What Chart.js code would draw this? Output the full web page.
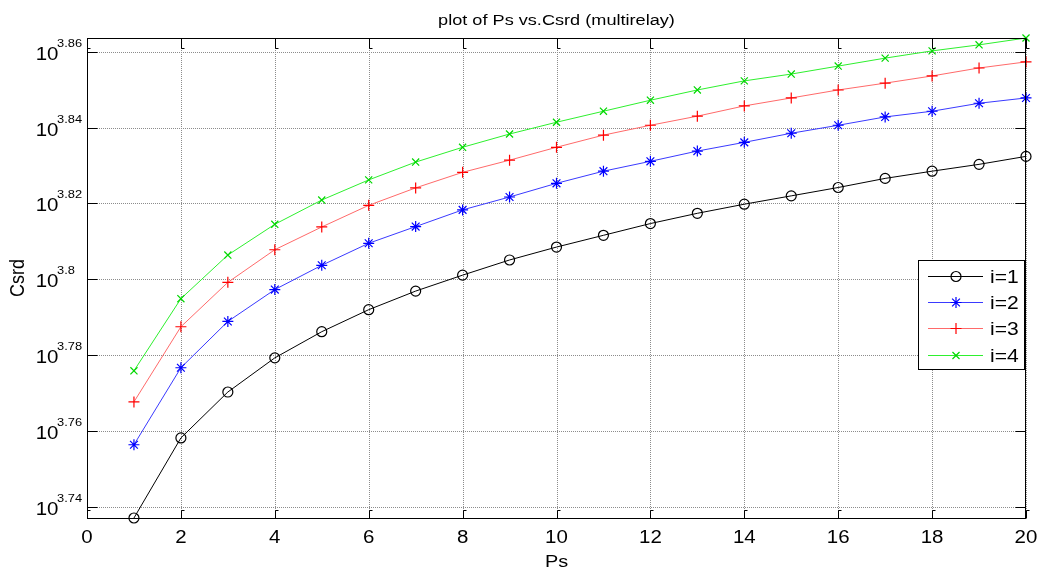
<!DOCTYPE html>
<html>
<head>
<meta charset="utf-8">
<script src="https://cdn.jsdelivr.net/npm/chart.js@4/dist/chart.umd.min.js"></script>
<style>
  html, body { margin: 0; padding: 0; background: #fff; }
  #wrap { width: 1039px; height: 571px; }
</style>
</head>
<body>
<div id="wrap"><canvas id="c" width="1039" height="571"></canvas></div>
<script>
// ---------- data ----------
const ps = [1, 2, 3, 4, 5, 6, 7, 8, 9, 10, 11, 12, 13, 14, 15, 16, 17, 18, 19, 20];
const csrdI1 = [3.7371, 3.7582, 3.7703, 3.7793, 3.7862, 3.7920, 3.7969, 3.8011, 3.8051, 3.8085,
                3.8116, 3.8147, 3.8174, 3.8198, 3.8220, 3.8242, 3.8266, 3.8285, 3.8303, 3.8324];
const csrdI2 = [3.7564, 3.7767, 3.7889, 3.7973, 3.8037, 3.8095, 3.8139, 3.8183, 3.8217, 3.8253,
                3.8285, 3.8311, 3.8338, 3.8361, 3.8385, 3.8406, 3.8428, 3.8443, 3.8464, 3.8478];
const csrdI3 = [3.7677, 3.7875, 3.7992, 3.8078, 3.8138, 3.8195, 3.8241, 3.8282, 3.8314, 3.8348,
                3.8380, 3.8406, 3.8430, 3.8457, 3.8478, 3.8499, 3.8517, 3.8536, 3.8557, 3.8573];
const csrdI4 = [3.7759, 3.7949, 3.8064, 3.8145, 3.8209, 3.8262, 3.8309, 3.8348, 3.8383, 3.8414,
                3.8443, 3.8472, 3.8499, 3.8523, 3.8541, 3.8562, 3.8583, 3.8602, 3.8618, 3.8636];
const seriesNames = ['i=1', 'i=2', 'i=3', 'i=4'];
const xTicks = [0, 2, 4, 6, 8, 10, 12, 14, 16, 18, 20];
const yTicks = [3.74, 3.76, 3.78, 3.80, 3.82, 3.84, 3.86];
const yTickExp = ['3.74', '3.76', '3.78', '3.8', '3.82', '3.84', '3.86'];
const titleText = 'plot of Ps vs.Csrd (multirelay)';
const xTitle = 'Ps';
const yTitle = 'Csrd';

// ---------- styling ----------
const FONT = '"Liberation Sans", Arial, Helvetica, sans-serif';
const SX = 1.17; // horizontal stretch of text in the reference
const allVals = [].concat(csrdI1, csrdI2, csrdI3, csrdI4);
const yMin = Math.min.apply(null, allVals);
const yMax = Math.max.apply(null, allVals);

function pts(arr) { return ps.map((p, i) => ({ x: p, y: arr[i] })); }

const styles = [
  { line: '#000000', mark: '#000000', style: 'circle',   r: 5 },
  { line: '#3a3aff', mark: '#0000ff', style: 'star',     r: 5.5 },
  { line: '#ff6a6a', mark: '#ff0000', style: 'cross',    r: 5.5 },
  { line: '#2ef02e', mark: '#00d800', style: 'crossRot', r: 5 }
];
const seriesData = [csrdI1, csrdI2, csrdI3, csrdI4];

const datasets = seriesData.map((arr, k) => ({
  label: seriesNames[k],
  data: pts(arr),
  borderColor: styles[k].line,
  borderWidth: 1,
  pointStyle: styles[k].style,
  pointRadius: styles[k].r,
  pointBorderColor: styles[k].mark,
  pointBackgroundColor: 'rgba(0,0,0,0)',
  pointBorderWidth: 1.2,
  tension: 0,
  fill: false,
  clip: false
}));

function text(ctx, s, x, y, size, align, baseline) {
  ctx.save();
  ctx.font = size + 'px ' + FONT;
  ctx.fillStyle = '#000';
  ctx.textAlign = align || 'left';
  ctx.textBaseline = baseline || 'alphabetic';
  ctx.translate(x, y);
  ctx.scale(SX, 1);
  ctx.fillText(s, 0, 0);
  ctx.restore();
}

function marker(ctx, style, x, y, r, color) {
  ctx.save();
  ctx.strokeStyle = color;
  ctx.lineWidth = 1.2;
  ctx.beginPath();
  if (style === 'circle') {
    ctx.arc(x, y, r, 0, Math.PI * 2);
  } else {
    const d = r * Math.SQRT1_2;
    if (style === 'cross' || style === 'star') {
      ctx.moveTo(x - r, y); ctx.lineTo(x + r, y);
      ctx.moveTo(x, y - r); ctx.lineTo(x, y + r);
    }
    if (style === 'crossRot' || style === 'star') {
      ctx.moveTo(x - d, y - d); ctx.lineTo(x + d, y + d);
      ctx.moveTo(x - d, y + d); ctx.lineTo(x + d, y - d);
    }
  }
  ctx.stroke();
  ctx.restore();
}

const matlabAxes = {
  id: 'matlabAxes',
  beforeDraw(chart) {
    const ctx = chart.ctx;
    ctx.save();
    ctx.fillStyle = '#fff';
    ctx.fillRect(0, 0, chart.width, chart.height);
    ctx.restore();
  },
  beforeDatasetsDraw(chart) {
    const ctx = chart.ctx, a = chart.chartArea;
    const xs = chart.scales.x, ys = chart.scales.y;
    ctx.save();
    ctx.strokeStyle = '#8c8c8c';
    ctx.lineWidth = 1;
    ctx.setLineDash([1, 1]);
    xTicks.forEach(v => {
      const px = Math.round(xs.getPixelForValue(v)) + 0.5;
      ctx.beginPath(); ctx.moveTo(px, a.top); ctx.lineTo(px, a.bottom); ctx.stroke();
    });
    yTicks.forEach(v => {
      const py = Math.round(ys.getPixelForValue(v)) + 0.5;
      ctx.beginPath(); ctx.moveTo(a.left, py); ctx.lineTo(a.right, py); ctx.stroke();
    });
    ctx.restore();
  },
  afterDraw(chart) {
    const ctx = chart.ctx, a = chart.chartArea;
    const xs = chart.scales.x, ys = chart.scales.y;
    const L = Math.round(a.left) + 0.5, R = Math.round(a.right) - 0.5;
    const T = Math.round(a.top) + 0.5, B = Math.round(a.bottom) + 0.5;
    ctx.save();
    ctx.strokeStyle = '#000';
    ctx.lineWidth = 1;
    ctx.setLineDash([]);
    ctx.strokeRect(L, T, R - L, B - T);
    // tick marks (inside, all four sides)
    ctx.beginPath();
    xTicks.forEach(v => {
      const px = Math.round(xs.getPixelForValue(v)) + 0.5;
      ctx.moveTo(px, T); ctx.lineTo(px, T + 10); ctx.lineTo(px + 3, T + 10);
      ctx.moveTo(px + 3, B - 8); ctx.lineTo(px, B - 8); ctx.lineTo(px, B);
    });
    yTicks.forEach(v => {
      const py = Math.round(ys.getPixelForValue(v)) + 0.5;
      ctx.moveTo(L, py); ctx.lineTo(L + 10, py);
      ctx.moveTo(R, py); ctx.lineTo(R - 10, py);
    });
    ctx.stroke();
    ctx.restore();

    // x tick labels
    xTicks.forEach(v => {
      text(ctx, String(v), xs.getPixelForValue(v), 543, 17.5, 'center');
    });
    // y tick labels 10^exp
    yTicks.forEach((v, i) => {
      const py = ys.getPixelForValue(v);
      text(ctx, '10', 58.5, py + 8, 17.5, 'right');
      text(ctx, yTickExp[i], 57, py - 5, 11, 'left');
    });
    // axis titles
    const cx = (a.left + a.right) / 2;
    text(ctx, xTitle, cx, 567, 17, 'center');
    ctx.save();
    ctx.font = '18px ' + FONT;
    ctx.fillStyle = '#000';
    ctx.textAlign = 'center';
    ctx.textBaseline = 'middle';
    ctx.translate(18.5, (a.top + a.bottom) / 2);
    ctx.scale(SX, 1);
    ctx.rotate(-Math.PI / 2);
    ctx.fillText(yTitle, 0, 0);
    ctx.restore();
    // title
    text(ctx, titleText, cx, 25, 15.5, 'center');

    // legend
    const lx = 918.5, ly = 260.5, lw = 106, lh = 109;
    ctx.save();
    ctx.fillStyle = '#fff';
    ctx.fillRect(lx, ly, lw, lh);
    ctx.strokeStyle = '#000';
    ctx.lineWidth = 1;
    ctx.strokeRect(lx, ly, lw, lh);
    ctx.restore();
    const rows = [276, 302, 328, 355];
    chart.data.datasets.forEach((ds, k) => {
      const y = rows[k] + 0.5;
      ctx.save();
      ctx.strokeStyle = ds.borderColor;
      ctx.lineWidth = 1;
      ctx.beginPath(); ctx.moveTo(928, y); ctx.lineTo(983, y); ctx.stroke();
      ctx.restore();
      marker(ctx, ds.pointStyle, 956, y, ds.pointRadius, ds.pointBorderColor);
      text(ctx, ds.label, 990, rows[k] + 7, 18, 'left');
    });
  }
};

new Chart(document.getElementById('c'), {
  type: 'line',
  data: { datasets: datasets },
  options: {
    responsive: false,
    animation: false,
    devicePixelRatio: 1,
    layout: { padding: { left: 87, top: 38, right: 13, bottom: 53 } },
    plugins: { legend: { display: false }, title: { display: false }, tooltip: { enabled: false } },
    scales: {
      x: { type: 'linear', min: 0, max: 20, display: false },
      y: { type: 'linear', min: yMin, max: yMax, display: false }
    }
  },
  plugins: [matlabAxes]
});
</script>
</body>
</html>
